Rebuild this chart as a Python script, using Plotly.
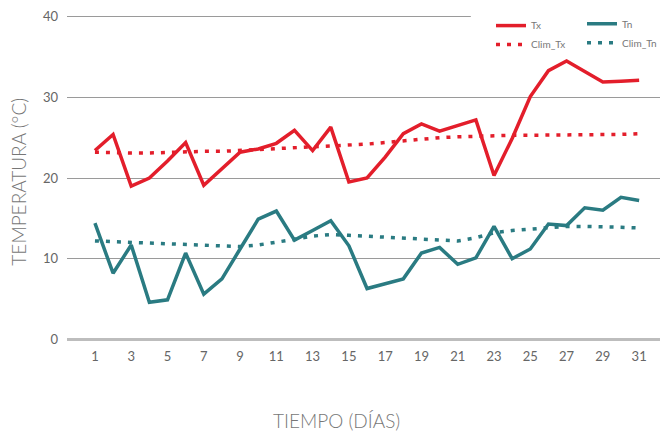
import plotly.graph_objects as go

days = list(range(1, 32))
tx = [23.4, 25.4, 19.0, 20.0, 22.1, 24.4, 19.1, 21.2, 23.2, 23.6, 24.3, 25.9, 23.4, 26.3, 19.5,
      20.0, 22.6, 25.5, 26.7, 25.8, 26.5, 27.2, 20.3, 24.9, 30.1, 33.3, 34.5, 33.2, 31.9, 32.0, 32.1]
tn = [14.4, 8.2, 11.7, 4.6, 4.9, 10.7, 5.6, 7.5, 11.2, 14.9, 15.9, 12.3, 13.5, 14.7, 11.6,
      6.3, 6.9, 7.5, 10.7, 11.4, 9.3, 10.1, 14.0, 10.0, 11.2, 14.3, 14.1, 16.3, 16.0, 17.6, 17.2]
clim_tx = [23.2, 23.1, 23.1, 23.1, 23.2, 23.2, 23.3, 23.3, 23.4, 23.5, 23.6, 23.7, 23.8, 23.9, 24.0,
           24.2, 24.4, 24.6, 24.9, 25.0, 25.1, 25.2, 25.3, 25.3, 25.3, 25.3, 25.4, 25.4, 25.4, 25.4, 25.5]
clim_tn = [12.2, 12.1, 12.0, 11.9, 11.8, 11.7, 11.6, 11.5, 11.5, 11.7, 12.0, 12.4, 12.8, 13.0, 12.9,
           12.8, 12.6, 12.5, 12.4, 12.3, 12.2, 12.6, 13.2, 13.5, 13.7, 13.9, 14.0, 14.0, 14.0, 13.9, 13.8]
x_ticks = list(range(1, 32, 2))
y_ticks = [0, 10, 20, 30, 40]

RED = "#E31E2B"
TEAL = "#2A7B82"
GREY = "#666666"
FONT = "Lato"

fig = go.Figure()
fig.add_trace(go.Scatter(x=days, y=tx, mode="lines", name="Tx",
                         line=dict(color=RED, width=3.5), legend="legend"))
fig.add_trace(go.Scatter(x=days, y=clim_tx, mode="lines", name="Clim_Tx",
                         line=dict(color=RED, width=3.5, dash="4px,7px"), legend="legend"))
fig.add_trace(go.Scatter(x=days, y=tn, mode="lines", name="Tn",
                         line=dict(color=TEAL, width=3.5), legend="legend2"))
fig.add_trace(go.Scatter(x=days, y=clim_tn, mode="lines", name="Clim_Tn",
                         line=dict(color=TEAL, width=3.5, dash="4px,7px"), legend="legend2"))

legend_common = dict(font=dict(family=FONT, size=10, color="#777777"), bgcolor="rgba(0,0,0,0)",
                     yanchor="top", xanchor="left", tracegroupgap=0, itemwidth=30)

fig.update_layout(
    width=662, height=435,
    margin=dict(l=67, r=0, t=15, b=94),
    paper_bgcolor="white", plot_bgcolor="white",
    font=dict(family=FONT, color=GREY),
    showlegend=True,
    legend=dict(x=0.715, y=1.012, **legend_common),
    legend2=dict(x=0.869, y=1.018, **legend_common),
    xaxis=dict(range=[-0.54, 32.15], tickvals=x_ticks, ticktext=[str(v) for v in x_ticks],
               showgrid=False, zeroline=False, showline=False, ticks="",
               tickfont=dict(family=FONT, size=13, color=GREY), ticklabelstandoff=6),
    yaxis=dict(range=[-0.2, 40.2], tickvals=y_ticks, showgrid=True, gridcolor="#9a9a9a",
               gridwidth=1.3, zeroline=True, zerolinecolor="#bdbdbd", zerolinewidth=2.5,
               showline=False, ticks="",
               tickfont=dict(family=FONT, size=13, color=GREY), ticklabelstandoff=8),
    shapes=[dict(type="rect", xref="paper", yref="y", x0=0.681, x1=1.0, y0=39.2, y1=40.8,
                 fillcolor="white", line=dict(width=0), layer="above")],
    annotations=[
        dict(text="TEMPERATURA (°C)", xref="paper", yref="paper", x=-0.082, y=0.49,
             xanchor="center", yanchor="middle", textangle=-90, showarrow=False,
             font=dict(family=FONT, size=19, color="#777777", weight=300)),
        dict(text="TIEMPO (DÍAS)", xref="paper", yref="paper", x=0.455, y=-0.245,
             xanchor="center", yanchor="middle", showarrow=False,
             font=dict(family=FONT, size=19, color="#777777", weight=300)),
    ],
)

fig.write_html("out.html", config={"displayModeBar": False},
               post_script="document.body.style.margin='0';document.body.style.overflow='hidden';")
